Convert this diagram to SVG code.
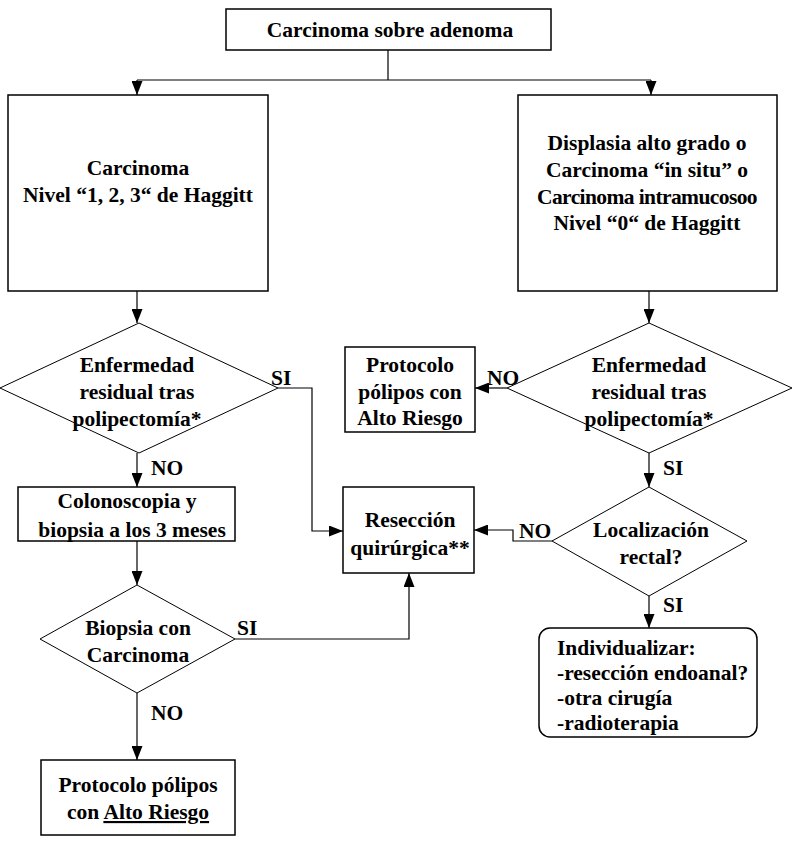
<svg xmlns="http://www.w3.org/2000/svg" width="800" height="844" viewBox="0 0 800 844">
<style>
.box{fill:#fff;stroke:#000;stroke-width:1.5}
.dia{fill:#fff;stroke:#000;stroke-width:1}
.ln{fill:none;stroke:#000;stroke-width:1.2;marker-end:url(#ah)}
.pl{fill:none;stroke:#000;stroke-width:1.2}
text{font-family:"Liberation Serif","Times New Roman",serif;font-weight:bold;font-size:21.5px;fill:#000}
.c{text-anchor:middle}
.t{letter-spacing:-0.6px}
</style>
<defs>
<marker id="ah" markerUnits="userSpaceOnUse" markerWidth="14" markerHeight="11" refX="14" refY="5.5" orient="auto">
<path d="M0,0 L14,5.5 L0,11 z" fill="#000"/>
</marker>
</defs>
<rect width="800" height="844" fill="#fff"/>
<g id="connectors">
<path class="pl" d="M388,50 V80 M137,80 H651"/>
<path class="ln" d="M137,80 V95"/>
<path class="ln" d="M651,80 V95"/>
<path class="ln" d="M137,291 V323"/>
<path class="ln" d="M649,291 V323"/>
<path class="ln" d="M278,388 H312 V531 H343"/>
<path class="ln" d="M137,453 V487"/>
<path class="ln" d="M507,388 H475"/>
<path class="ln" d="M649,453 V487"/>
<path class="ln" d="M552,541 H513 V530 H474"/>
<path class="ln" d="M137,541 V585"/>
<path class="ln" d="M235,639 H409 V573"/>
<path class="ln" d="M649,596 V628"/>
<path class="ln" d="M137,693 V760"/>
<text x="271" y="385">SI</text>
<text x="151" y="475">NO</text>
<text x="487" y="385">NO</text>
<text x="663" y="475">SI</text>
<text x="519" y="538">NO</text>
<text x="237" y="635">SI</text>
<text x="663" y="612">SI</text>
<text x="151" y="720">NO</text>
</g>
<g id="n-top">
<rect class="box" x="226" y="9" width="325" height="41"/>
<text class="c" x="390" y="37">Carcinoma sobre adenoma</text>
</g>
<g id="n-left">
<rect class="box" x="8" y="95" width="260" height="196"/>
<text class="c" x="138" y="175">Carcinoma</text>
<text class="c" x="138" y="202">Nivel “1, 2, 3“ de Haggitt</text>
</g>
<g id="n-right">
<rect class="box" x="518" y="95" width="259" height="196"/>
<text class="c" x="647" y="150">Displasia alto grado o</text>
<text class="c" x="647" y="177">Carcinoma “in situ” o</text>
<text class="c t" x="647" y="204">Carcinoma intramucosoo</text>
<text class="c" x="647" y="230">Nivel “0“ de Haggitt</text>
</g>
<g id="d-left">
<polygon class="dia" points="139,323 278,388 139,453 0,388"/>
<text class="c" x="137" y="372">Enfermedad</text>
<text class="c" x="137" y="399">residual tras</text>
<text class="c" x="137" y="426">polipectomía*</text>
</g>
<g id="d-right">
<polygon class="dia" points="649,323 792,388 649,453 507,388"/>
<text class="c" x="649" y="372">Enfermedad</text>
<text class="c" x="649" y="399">residual tras</text>
<text class="c" x="649" y="426">polipectomía*</text>
</g>
<g id="n-protocolo1">
<rect class="box" x="345" y="347" width="130" height="85"/>
<text class="c" x="410" y="372">Protocolo</text>
<text class="c" x="410" y="399">pólipos con</text>
<text class="c" x="410" y="425">Alto Riesgo</text>
</g>
<g id="n-colono">
<rect class="box" x="18" y="487" width="217" height="54"/>
<text class="c" x="127" y="508">Colonoscopia y</text>
<text class="c" x="132" y="537">biopsia a los 3 meses</text>
</g>
<g id="n-reseccion">
<rect class="box" x="343" y="487" width="131" height="86"/>
<text class="c" x="410" y="527">Resección</text>
<text class="c" x="410" y="555">quirúrgica**</text>
</g>
<g id="d-local">
<polygon class="dia" points="649,487 747,541 649,596 552,541"/>
<text class="c" x="651" y="537">Localización</text>
<text class="c" x="651" y="564">rectal?</text>
</g>
<g id="d-biopsia">
<polygon class="dia" points="137,585 235,639 137,693 40,639"/>
<text class="c" x="138" y="635">Biopsia con</text>
<text class="c" x="138" y="662">Carcinoma</text>
</g>
<g id="n-individualizar">
<rect class="box" x="539" y="628" width="218" height="109" rx="11"/>
<text x="557" y="655">Individualizar:</text>
<text x="557" y="680">-resección endoanal?</text>
<text x="557" y="705">-otra cirugía</text>
<text x="557" y="730">-radioterapia</text>
</g>
<g id="n-protocolo2">
<rect class="box" x="41" y="760" width="194" height="75"/>
<text class="c" x="138" y="792">Protocolo pólipos</text>
<text class="c" x="138" y="819">con <tspan text-decoration="underline">Alto Riesgo</tspan></text>
</g>
</svg>
